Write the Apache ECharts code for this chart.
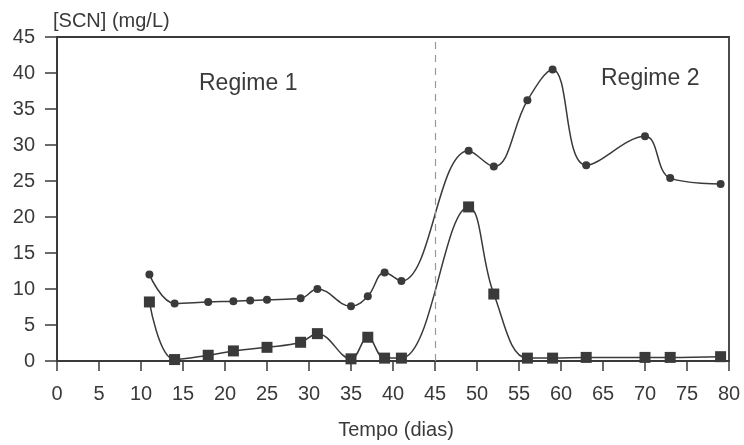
<!DOCTYPE html>
<html>
<head>
<meta charset="utf-8">
<script src="https://cdn.jsdelivr.net/npm/echarts@6/dist/echarts.min.js"></script>
<style>
  html, body { margin: 0; padding: 0; background: #fff; }
  #chart { width: 744px; height: 445px; }
</style>
</head>
<body>
<div id="chart"></div>
<script>
// SCN concentration over time, two curves
const circleDays = [11, 14, 18, 21, 23, 25, 29, 31, 35, 37, 39, 41, 49, 52, 56, 59, 63, 70, 73, 79]
const circleVals = [12, 8, 8.2, 8.3, 8.4, 8.5, 8.7, 10, 7.6, 9, 12.3, 11.1, 29.2, 27, 36.2, 40.5, 27.2, 31.2, 25.4, 24.6]
const squareDays = [11, 14, 18, 21, 25, 29, 31, 35, 37, 39, 41, 49, 52, 56, 59, 63, 70, 73, 79]
const squareVals = [8.2, 0.2, 0.8, 1.4, 1.9, 2.6, 3.8, 0.3, 3.3, 0.4, 0.4, 21.4, 9.3, 0.4, 0.4, 0.5, 0.5, 0.5, 0.6]
const regimeSplit = 45

const ink = '#3a3a3a'
const font = 'Liberation Sans, Arial, sans-serif'

const pairs = (xs, ys) => xs.map((x, i) => [x, ys[i]])

const chart = echarts.init(document.getElementById('chart'))
chart.setOption({
  animation: false,
  textStyle: { fontFamily: font, color: ink },
  grid: {
    left: 57, right: 15, top: 37, bottom: 80,
    show: true, borderColor: ink, borderWidth: 1.8
  },
  xAxis: {
    type: 'value',
    min: 0, max: 80, interval: 5,
    name: 'Tempo (dias)',
    nameLocation: 'middle',
    nameGap: 59,
    nameTextStyle: { fontSize: 20, color: ink, padding: [0, 0, 0, 6] },
    axisLine: { lineStyle: { color: ink, width: 2 } },
    axisTick: { show: true, inside: false, length: 10, lineStyle: { color: ink, width: 1.5 } },
    axisLabel: { fontSize: 20, color: ink, margin: 23 },
    splitLine: { show: false }
  },
  yAxis: {
    type: 'value',
    min: 0, max: 45, interval: 5,
    name: '[SCN] (mg/L)',
    nameGap: 6,
    nameTextStyle: { fontSize: 20, color: ink, align: 'left', padding: [0, 0, 0, -4] },
    axisLine: { show: true, lineStyle: { color: ink, width: 2 } },
    axisTick: { show: true, inside: false, length: 12, lineStyle: { color: ink, width: 1.5 } },
    axisLabel: { fontSize: 20, color: ink, margin: 22 },
    splitLine: { show: false }
  },
  graphic: [
    { type: 'text', left: 199, top: 72, style: { text: 'Regime 1', font: '23px ' + font, fill: ink } },
    { type: 'text', left: 601, top: 67, style: { text: 'Regime 2', font: '23px ' + font, fill: ink } }
  ],
  series: [
    {
      name: 'circle',
      type: 'line',
      smooth: 0.4,
      data: pairs(circleDays, circleVals),
      symbol: 'circle',
      symbolSize: 8,
      lineStyle: { color: ink, width: 1.5 },
      itemStyle: { color: ink },
      markLine: {
        silent: true,
        symbol: 'none',
        label: { show: false },
        lineStyle: { color: '#999', type: [7, 6], width: 1.2 },
        data: [{ xAxis: regimeSplit }]
      }
    },
    {
      name: 'square',
      type: 'line',
      smooth: 0.4,
      data: pairs(squareDays, squareVals),
      symbol: 'rect',
      symbolSize: 11,
      lineStyle: { color: ink, width: 1.5 },
      itemStyle: { color: ink }
    }
  ]
})
</script>
</body>
</html>
